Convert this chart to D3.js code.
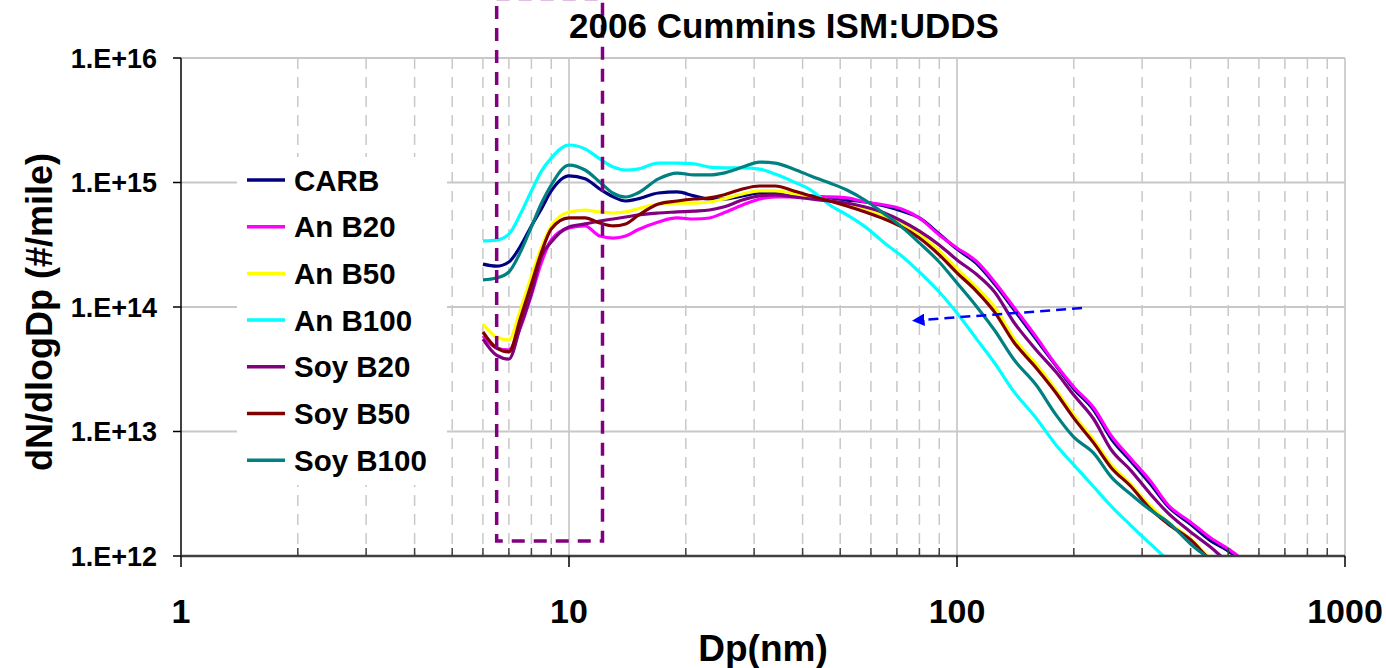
<!DOCTYPE html>
<html lang="en">
<head>
  <meta charset="utf-8">
  <title>2006 Cummins ISM:UDDS</title>
  <style>
    body { margin: 0; background: #fff; }
    svg { display: block; font-family: Arial, "Liberation Sans", sans-serif; font-weight: bold; }
  </style>
</head>
<body>
  <div id="chart"></div>
  <script src="https://d3js.org/d3.v7.min.js"></script>
  <script>
    // Particle diameters (nm) shared by all series
    var dp = [6, 6.5, 7, 7.5, 8, 8.5, 9, 10, 11, 12, 13, 14, 15, 17, 19, 21, 23, 25, 28, 31, 34, 38, 42, 47,
      52, 58, 65, 72, 80, 90, 100, 112, 125, 140, 160, 180, 200, 225, 250, 280, 315, 350, 400, 450, 500, 530];

    // dN/dlogDp (#/mile)
    var carb = [2.21e14, 2.13e14, 2.30e14, 3.09e14, 4.48e14, 6.2e14, 8.55e14, 1.13e15, 1.07e15, 8.87e14, 7.66e14, 7.1e14,
      7.37e14, 8.24e14, 8.4e14, 7.8e14, 7.37e14, 7.37e14, 7.8e14, 8.24e14, 8.24e14, 8.09e14, 7.8e14, 7.52e14,
      7.23e14, 6.97e14, 6.47e14, 5.9e14, 5.19e14, 3.86e14, 2.92e14, 2.25e14, 1.53e14, 9.6e13, 5.5e13, 3.37e13,
      2.2e13, 1.49e13, 8.7e12, 5.8e12, 3.78e12, 2.5e12, 1.8e12, 1.33e12, 1.1e12, 9.6e11];
    var anB20 = [5.85e13, 4.69e13, 4.52e13, 6.9e13, 1.25e14, 2.3e14, 3.45e14, 4.32e14, 4.48e14, 3.72e14, 3.58e14, 3.72e14,
      4.15e14, 4.82e14, 5.19e14, 5.09e14, 5.19e14, 5.69e14, 6.59e14, 7.37e14, 7.66e14, 7.66e14, 7.66e14, 7.66e14,
      7.52e14, 6.97e14, 6.59e14, 6.13e14, 5.19e14, 3.79e14, 2.98e14, 2.34e14, 1.59e14, 1.0e14, 5.74e13, 3.42e13,
      2.28e13, 1.55e13, 9.2e12, 6.1e12, 4.0e12, 2.57e12, 1.87e12, 1.4e12, 1.14e12, 1.0e12];
    var anB50 = [7.3e13, 5.74e13, 5.44e13, 9.6e13, 1.77e14, 3.03e14, 4.48e14, 5.8e14, 6.01e14, 5.8e14, 5.69e14, 5.8e14,
      6.13e14, 6.71e14, 6.84e14, 6.84e14, 6.97e14, 7.37e14, 8.09e14, 8.55e14, 8.55e14, 8.09e14, 7.52e14, 7.1e14,
      6.59e14, 6.01e14, 5.38e14, 4.65e14, 3.86e14, 2.82e14, 2.02e14, 1.45e14, 1.0e14, 5.64e13, 3.48e13, 2.15e13,
      1.36e13, 8.55e12, 5.38e12, 3.78e12, 2.52e12, 1.87e12, 1.37e12, 9.6e11, 8e11, 7e11];
    var anB100 = [3.4e14, 3.45e14, 3.85e14, 5.6e14, 8.55e14, 1.24e15, 1.57e15, 2.0e15, 1.86e15, 1.55e15, 1.33e15, 1.26e15,
      1.28e15, 1.43e15, 1.43e15, 1.41e15, 1.33e15, 1.31e15, 1.31e15, 1.28e15, 1.17e15, 1.01e15, 8.7e14, 6.6e14,
      5.5e14, 4.4e14, 3.27e14, 2.57e14, 1.91e14, 1.32e14, 8.95e13, 5.6e13, 3.55e13, 2.1e13, 1.28e13, 7.8e12,
      5.4e12, 3.6e12, 2.5e12, 1.77e12, 1.25e12, 9.3e11, 7e11, 5e11, 4e11, 3.5e11];
    var soyB20 = [5.53e13, 4.11e13, 3.82e13, 7.03e13, 1.29e14, 2.57e14, 3.33e14, 4.4e14, 4.65e14, 4.91e14, 5.09e14, 5.28e14,
      5.48e14, 5.69e14, 5.8e14, 5.9e14, 6.01e14, 6.35e14, 7.23e14, 7.8e14, 7.94e14, 7.66e14, 7.37e14, 7.1e14,
      6.84e14, 6.35e14, 5.69e14, 4.91e14, 4.07e14, 3.15e14, 2.39e14, 1.84e14, 1.32e14, 7.58e13, 4.52e13, 3.0e13,
      1.96e13, 1.26e13, 7.1e12, 4.9e12, 3.15e12, 2.21e12, 1.56e12, 1.18e12, 8.95e11, 8e11];
    var soyB50 = [6.3e13, 4.69e13, 4.36e13, 8.17e13, 1.53e14, 2.77e14, 4.24e14, 5.19e14, 5.19e14, 4.73e14, 4.48e14, 4.65e14,
      5.38e14, 6.71e14, 7.1e14, 7.37e14, 7.52e14, 7.94e14, 8.87e14, 9.37e14, 9.37e14, 8.55e14, 7.8e14, 7.1e14,
      6.47e14, 5.8e14, 5.09e14, 4.4e14, 3.58e14, 2.62e14, 1.88e14, 1.35e14, 9.1e13, 5.24e13, 3.24e13, 2.04e13,
      1.28e13, 8.1e12, 5.1e12, 3.65e12, 2.39e12, 1.81e12, 1.35e12, 9.3e11, 7.5e11, 6.5e11];
    var soyB100 = [1.65e14, 1.71e14, 1.91e14, 2.77e14, 4.4e14, 6.85e14, 9.55e14, 1.38e15, 1.26e15, 1.01e15, 8.2e14, 7.65e14,
      8.2e14, 1.07e15, 1.19e15, 1.15e15, 1.15e15, 1.19e15, 1.33e15, 1.46e15, 1.43e15, 1.28e15, 1.13e15, 9.9e14,
      8.7e14, 7.2e14, 5.6e14, 4.4e14, 3.27e14, 2.3e14, 1.56e14, 1.02e14, 6.5e13, 3.8e13, 2.36e13, 1.36e13,
      9.0e12, 6.7e12, 4.3e12, 3.15e12, 2.34e12, 1.87e12, 1.25e12, 9.3e11, 7e11, 6e11];

    var seriesNames = ["CARB", "An B20", "An B50", "An B100", "Soy B20", "Soy B50", "Soy B100"];
    var seriesValues = [carb, anB20, anB50, anB100, soyB20, soyB50, soyB100];
    var seriesColors = ["#000080", "#ff00ff", "#ffff00", "#00ffff", "#800080", "#800000", "#008080"];

    var xTicks = [1, 10, 100, 1000];
    var xTickLabels = ["1", "10", "100", "1000"];
    var yTicks = [1e12, 1e13, 1e14, 1e15, 1e16];
    var yTickLabels = ["1.E+12", "1.E+13", "1.E+14", "1.E+15", "1.E+16"];

    // dashed box (nucleation region) and arrow, in data units
    var boxDp = [6.51, 12.2];
    var boxN = [1.32e12, 3e16];
    var arrowDp = [210, 78.4];
    var arrowN = [9.8e13, 7.87e13];

    var W = 1386, H = 668;
    var margin = { top: 58, right: 41, bottom: 112, left: 181 };

    var svg = d3.select("#chart").append("svg")
      .attr("width", W)
      .attr("height", H);

    var x = d3.scaleLog().domain([1, 1000]).range([margin.left, W - margin.right]);
    var y = d3.scaleLog().domain([1e12, 1e16]).range([H - margin.bottom, margin.top]);

    // minor vertical grid (dashed)
    var minor = [];
    [1, 10, 100].forEach(function (d) {
      for (var k = 2; k <= 9; k++) minor.push(k * d);
    });
    svg.append("g").selectAll("line").data(minor).join("line")
      .attr("x1", d => x(d)).attr("x2", d => x(d))
      .attr("y1", y(1e16)).attr("y2", y(1e12))
      .attr("stroke", "#c8c8c8").attr("stroke-width", 1.5)
      .attr("stroke-dasharray", "11,8");

    // major grid
    svg.append("g").selectAll("line").data([10, 100, 1000]).join("line")
      .attr("x1", d => x(d)).attr("x2", d => x(d))
      .attr("y1", y(1e16)).attr("y2", y(1e12))
      .attr("stroke", "#c0c0c0").attr("stroke-width", 1.5);
    svg.append("g").selectAll("line").data(yTicks.slice(1)).join("line")
      .attr("x1", x(1)).attr("x2", x(1000))
      .attr("y1", d => y(d)).attr("y2", d => y(d))
      .attr("stroke", "#c8c8c8").attr("stroke-width", 2);

    // series lines, clipped to the plot area
    svg.append("clipPath").attr("id", "plot-clip")
      .append("rect")
      .attr("x", x(1)).attr("y", y(1e16))
      .attr("width", x(1000) - x(1)).attr("height", y(1e12) - y(1e16));

    var line = d3.line()
      .x(d => x(d[0]))
      .y(d => y(d[1]))
      .curve(d3.curveMonotoneX);

    var lines = svg.append("g").attr("clip-path", "url(#plot-clip)");
    seriesValues.forEach(function (vals, i) {
      lines.append("path")
        .attr("fill", "none")
        .attr("stroke", seriesColors[i])
        .attr("stroke-width", 3.2)
        .attr("stroke-linejoin", "round")
        .attr("d", line(dp.map((d, j) => [d, vals[j]])));
    });

    // y axis
    var yAxis = svg.append("g");
    yAxis.append("line")
      .attr("x1", x(1)).attr("x2", x(1))
      .attr("y1", y(1e16)).attr("y2", y(1e12))
      .attr("stroke", "#000").attr("stroke-width", 1.5);
    yAxis.selectAll("line.tick").data(yTicks).join("line")
      .attr("class", "tick")
      .attr("x1", x(1) - 8).attr("x2", x(1))
      .attr("y1", d => y(d)).attr("y2", d => y(d))
      .attr("stroke", "#000").attr("stroke-width", 1.5);
    yAxis.selectAll("text").data(yTicks).join("text")
      .attr("x", x(1) - 24)
      .attr("y", d => y(d))
      .attr("dy", "0.36em")
      .attr("text-anchor", "end")
      .attr("font-size", 27)
      .text((d, i) => yTickLabels[i]);

    // x axis
    var xAxis = svg.append("g");
    xAxis.append("line")
      .attr("x1", x(1)).attr("x2", x(1000))
      .attr("y1", y(1e12)).attr("y2", y(1e12))
      .attr("stroke", "#404040").attr("stroke-width", 2.5);
    xAxis.selectAll("line.minor").data(minor).join("line")
      .attr("class", "minor")
      .attr("x1", d => x(d)).attr("x2", d => x(d))
      .attr("y1", y(1e12) - 8).attr("y2", y(1e12))
      .attr("stroke", "#404040").attr("stroke-width", 1.5);
    xAxis.selectAll("line.major").data(xTicks).join("line")
      .attr("class", "major")
      .attr("x1", d => x(d)).attr("x2", d => x(d))
      .attr("y1", y(1e12)).attr("y2", y(1e12) + 11)
      .attr("stroke", "#000").attr("stroke-width", 1.5);
    xAxis.selectAll("text").data(xTicks).join("text")
      .attr("x", d => x(d))
      .attr("y", 623)
      .attr("text-anchor", "middle")
      .attr("font-size", 34)
      .text((d, i) => xTickLabels[i]);

    // axis titles and chart title
    svg.append("text")
      .attr("x", (x(1) + x(1000)) / 2).attr("y", 661)
      .attr("text-anchor", "middle").attr("font-size", 37)
      .text("Dp(nm)");
    svg.append("text")
      .attr("transform", "translate(52,312) rotate(-90)")
      .attr("text-anchor", "middle").attr("font-size", 36)
      .text("dN/dlogDp (#/mile)");

    // dashed box
    svg.append("rect")
      .attr("x", x(boxDp[0])).attr("y", y(boxN[1]))
      .attr("width", x(boxDp[1]) - x(boxDp[0]))
      .attr("height", y(boxN[0]) - y(boxN[1]))
      .attr("fill", "none")
      .attr("stroke", "#800080").attr("stroke-width", 3.5)
      .attr("stroke-dasharray", "13,9");

    svg.append("text")
      .attr("x", 784).attr("y", 38)
      .attr("text-anchor", "middle").attr("font-size", 35)
      .text("2006 Cummins ISM:UDDS");

    // arrow
    svg.append("defs").append("marker")
      .attr("id", "head")
      .attr("viewBox", "0 0 10 10")
      .attr("refX", 2).attr("refY", 5)
      .attr("markerWidth", 5).attr("markerHeight", 5)
      .attr("orient", "auto")
      .append("path").attr("d", "M0,0L10,5L0,10z").attr("fill", "#0000ff");
    svg.append("line")
      .attr("x1", x(arrowDp[0])).attr("y1", y(arrowN[0]))
      .attr("x2", x(arrowDp[1]) + 6).attr("y2", y(arrowN[1]))
      .attr("stroke", "#0000ff").attr("stroke-width", 2.5)
      .attr("stroke-dasharray", "10,6")
      .attr("marker-end", "url(#head)");

    // legend
    var legend = svg.append("g");
    legend.append("rect")
      .attr("x", 237).attr("y", 157).attr("width", 210).attr("height", 328)
      .attr("fill", "#fff");
    seriesNames.forEach(function (name, i) {
      var ly = 180 + i * 46.7;
      legend.append("line")
        .attr("x1", 247).attr("x2", 285)
        .attr("y1", ly).attr("y2", ly)
        .attr("stroke", seriesColors[i]).attr("stroke-width", 3.5);
      legend.append("text")
        .attr("x", 294).attr("y", ly)
        .attr("dy", "0.36em")
        .attr("font-size", 29.5)
        .text(name);
    });
  </script>
</body>
</html>
